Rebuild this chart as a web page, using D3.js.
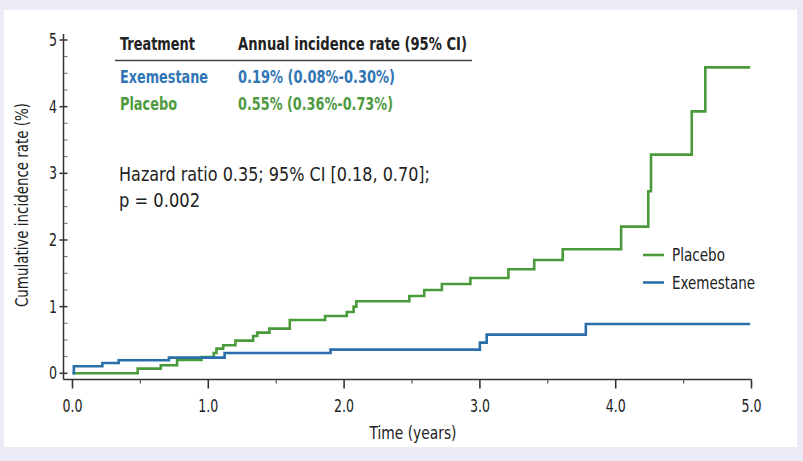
<!DOCTYPE html>
<html lang="en">
<head>
<meta charset="UTF-8">
<title>Cumulative incidence</title>
<script src="https://d3js.org/d3.v7.min.js"></script>
<style>
    body { margin: 0; background: #ebebf6; }
    svg { display: block; }
    text { font-family: "DejaVu Sans Condensed", "Liberation Sans Narrow", "Roboto", sans-serif; fill: #222; }
</style>
</head>
<body>
<svg width="803" height="461"></svg>
<script>
    // data
    var placeboTimes  = [0, 0.48, 0.65, 0.77, 0.95, 1.04, 1.06, 1.11, 1.20, 1.33, 1.36, 1.45, 1.60, 1.86, 2.02, 2.07, 2.09, 2.48, 2.59, 2.72, 2.93, 3.21, 3.40, 3.61, 4.04, 4.24, 4.26, 4.56, 4.66, 4.99];
    var placeboValues = [0, 0.07, 0.12, 0.20, 0.245, 0.305, 0.37, 0.42, 0.49, 0.56, 0.61, 0.67, 0.80, 0.86, 0.92, 1.00, 1.08, 1.16, 1.25, 1.34, 1.43, 1.56, 1.70, 1.86, 2.20, 2.73, 3.28, 3.93, 4.59, 4.59];
    var exemTimes  = [0, 0.01, 0.22, 0.34, 0.71, 1.12, 1.90, 3.00, 3.05, 3.78, 4.99];
    var exemValues = [0, 0.105, 0.155, 0.195, 0.235, 0.305, 0.355, 0.46, 0.58, 0.74, 0.74];

    var xTicks = [0, 1, 2, 3, 4, 5];
    var xMinor = [0.5, 1.5, 2.5, 3.5, 4.5];
    var yTicks = [0, 1, 2, 3, 4, 5];
    var yMinor = d3.range(0, 5.01, 0.25).filter(function(v) { return v % 1 !== 0; });

    var tableHead = ["Treatment", "Annual incidence rate (95% CI)"];
    var tableRows = [
        ["Exemestane", "0.19% (0.08%-0.30%)"],
        ["Placebo", "0.55% (0.36%-0.73%)"]
    ];
    var statsLines = ["Hazard ratio 0.35; 95% CI [0.18, 0.70];", "p = 0.002"];
    var legendNames = ["Placebo", "Exemestane"];

    var blue = "#2a6fab", green = "#4a9a3c";
    var textBlue = "#3176b4", textGreen = "#4e9a3f";

    var svg = d3.select("svg");

    // squeeze a text to the width it has in the figure (condensed face)
    function fit(sel, w) {
        return sel.attr("textLength", w).attr("lengthAdjust", "spacingAndGlyphs");
    }

    svg.append("rect")
        .attr("x", 4).attr("y", 10)
        .attr("width", 793).attr("height", 437)
        .attr("fill", "#fff");

    var x = d3.scaleLinear().domain([0, 5]).range([72.5, 751.5]);
    var y = d3.scaleLinear().domain([0, 5]).range([373.3, 40]);

    var axisX = 63.5, axisY = 379.5;

    // axes lines
    svg.append("line")
        .attr("x1", axisX).attr("x2", x(5))
        .attr("y1", axisY).attr("y2", axisY)
        .attr("stroke", "#333").attr("stroke-width", 1.5);
    svg.append("line")
        .attr("x1", axisX).attr("x2", axisX)
        .attr("y1", axisY).attr("y2", 34)
        .attr("stroke", "#333").attr("stroke-width", 1.5);

    // x ticks
    svg.selectAll(".xt").data(xTicks).enter().append("line")
        .attr("x1", function(d) { return x(d); }).attr("x2", function(d) { return x(d); })
        .attr("y1", axisY).attr("y2", axisY + 9)
        .attr("stroke", "#333").attr("stroke-width", 1.6);
    svg.selectAll(".xm").data(xMinor).enter().append("line")
        .attr("x1", function(d) { return x(d); }).attr("x2", function(d) { return x(d); })
        .attr("y1", axisY).attr("y2", axisY + 4)
        .attr("stroke", "#555").attr("stroke-width", 1.2);
    svg.selectAll(".xl").data(xTicks).enter().append("text")
        .attr("x", function(d) { return x(d); })
        .attr("y", 412)
        .attr("text-anchor", "middle")
        .attr("font-size", 17)
        .each(function() { fit(d3.select(this), 20); })
        .text(function(d) { return d3.format(".1f")(d); });

    // y ticks
    svg.selectAll(".yt").data(yTicks).enter().append("line")
        .attr("x1", axisX - 4).attr("x2", axisX + 4)
        .attr("y1", function(d) { return y(d); }).attr("y2", function(d) { return y(d); })
        .attr("stroke", "#333").attr("stroke-width", 1.5);
    svg.selectAll(".ym").data(yMinor).enter().append("line")
        .attr("x1", axisX).attr("x2", axisX + 4)
        .attr("y1", function(d) { return y(d); }).attr("y2", function(d) { return y(d); })
        .attr("stroke", "#666").attr("stroke-width", 1);
    svg.selectAll(".yl").data(yTicks).enter().append("text")
        .attr("x", 57)
        .attr("y", function(d) { return y(d) + 6; })
        .attr("text-anchor", "end")
        .attr("font-size", 17)
        .each(function() { fit(d3.select(this), 8); })
        .text(function(d) { return d; });

    // axis titles
    fit(svg.append("text")
        .attr("x", 413).attr("y", 438.5)
        .attr("text-anchor", "middle")
        .attr("font-size", 17)
        .text("Time (years)"), 87);
    fit(svg.append("text")
        .attr("transform", "translate(28,205) rotate(-90)")
        .attr("text-anchor", "middle")
        .attr("font-size", 17)
        .text("Cumulative incidence rate (%)"), 204);

    // step curves
    var line = d3.line()
        .x(function(d) { return x(d[0]); })
        .y(function(d) { return y(d[1]); })
        .curve(d3.curveStepAfter);

    svg.append("path")
        .datum(d3.zip(placeboTimes, placeboValues))
        .attr("d", line)
        .attr("fill", "none").attr("stroke", green).attr("stroke-width", 2.6);
    svg.append("path")
        .datum(d3.zip(exemTimes, exemValues))
        .attr("d", line)
        .attr("fill", "none").attr("stroke", blue).attr("stroke-width", 2.6);

    // table
    var colX = [120, 238];
    var headW = [75, 229];
    var rowW = [[88, 157], [57, 155]];
    tableHead.forEach(function(t, i) {
        fit(svg.append("text")
            .attr("x", colX[i]).attr("y", 50)
            .attr("font-size", 17).attr("font-weight", "bold")
            .text(t), headW[i]);
    });
    svg.append("line")
        .attr("x1", 115).attr("x2", 472)
        .attr("y1", 60.5).attr("y2", 60.5)
        .attr("stroke", "#444").attr("stroke-width", 1.5);
    var rowColors = [textBlue, textGreen];
    tableRows.forEach(function(row, r) {
        row.forEach(function(t, i) {
            fit(svg.append("text")
                .attr("x", colX[i]).attr("y", 83 + r * 27)
                .attr("font-size", 17).attr("font-weight", "bold")
                .style("fill", rowColors[r])
                .text(t), rowW[r][i]);
        });
    });

    var statsW = [311, 81];
    statsLines.forEach(function(t, i) {
        fit(svg.append("text")
            .attr("x", 119).attr("y", 181 + i * 26)
            .attr("font-size", 19)
            .text(t), statsW[i]);
    });

    // legend
    var legColors = [green, blue];
    var legW = [53, 83];
    legendNames.forEach(function(n, i) {
        var ly = 255 + i * 27.5;
        svg.append("line")
            .attr("x1", 643).attr("x2", 664)
            .attr("y1", ly).attr("y2", ly)
            .attr("stroke", legColors[i]).attr("stroke-width", 2.6);
        fit(svg.append("text")
            .attr("x", 672).attr("y", ly + 6)
            .attr("font-size", 17)
            .text(n), legW[i]);
    });
</script>
</body>
</html>
